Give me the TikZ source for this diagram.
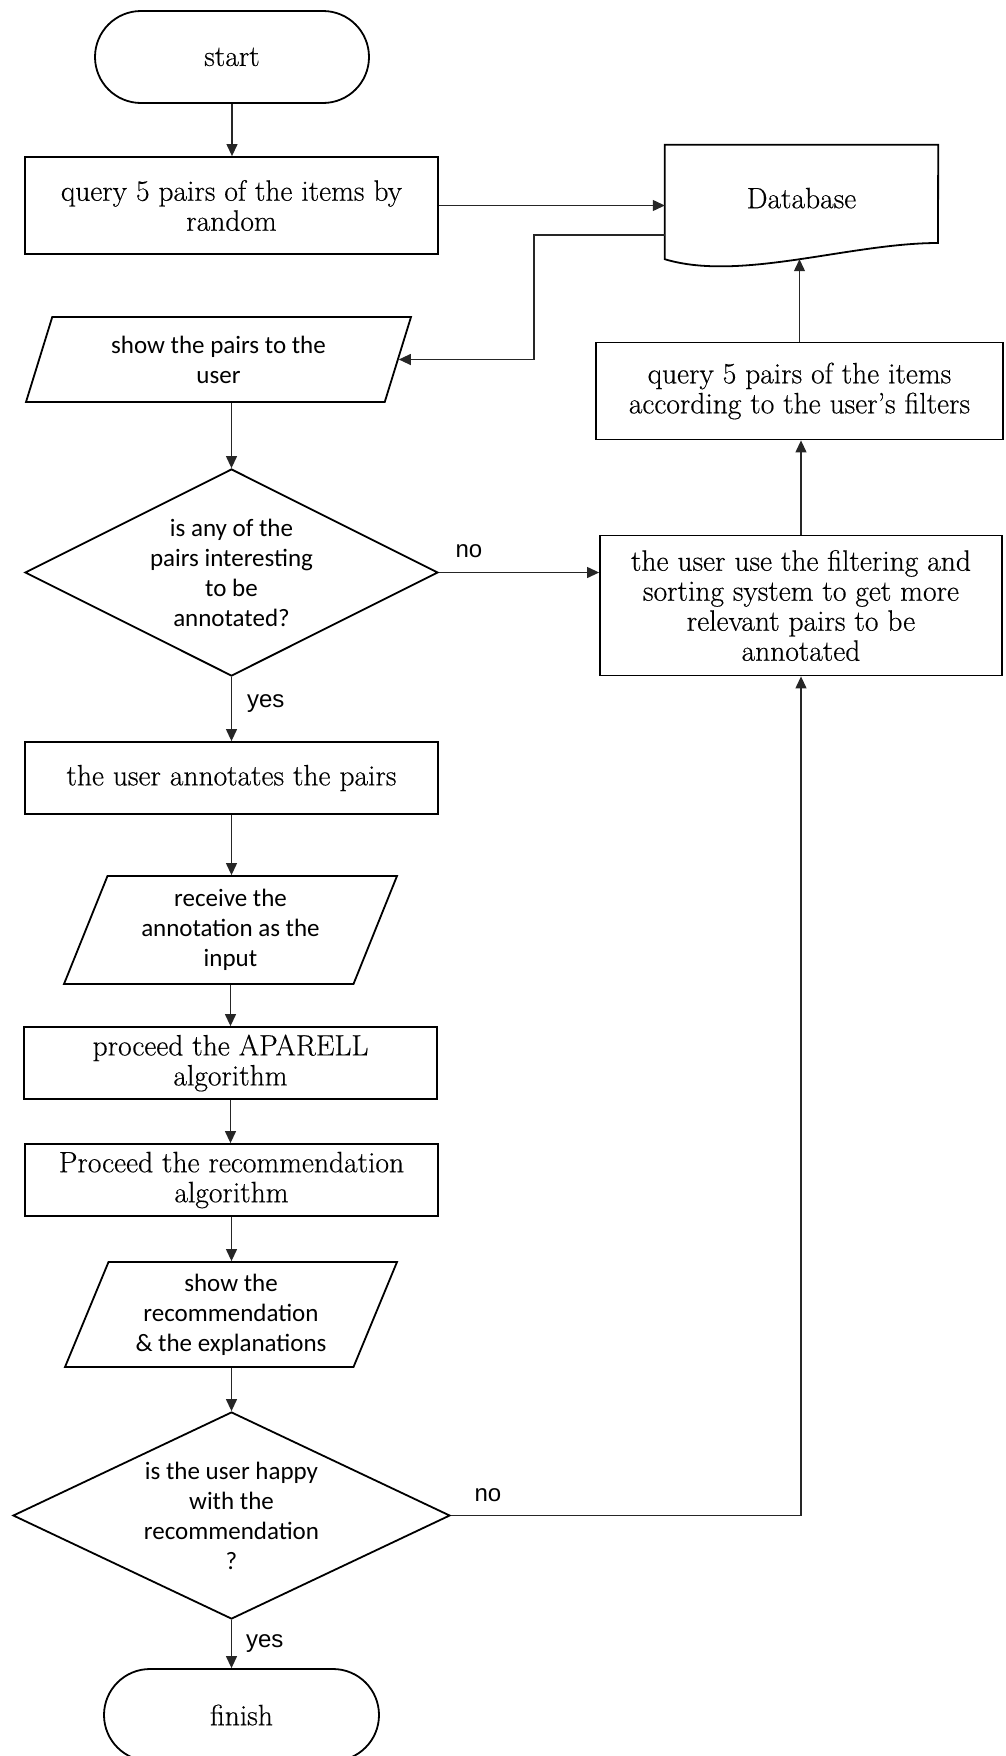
\documentclass[tikz,border=0pt]{standalone}
\usepackage{fontspec}
\newfontfamily\boxserif{Latin Modern Roman}[FakeBold=0.4]
\newfontfamily\boxsans{Carlito}
\newfontfamily\lblsans{Liberation Sans}
\usetikzlibrary{shapes.geometric, arrows.meta, calc}

\tikzset{
  shapeline/.style={draw=black, line width=1.8pt},
  serif/.style={font=\boxserif\fontsize{29.5}{30}\selectfont},
  sans/.style={font=\boxsans\fontsize{25}{30}\selectfont},
  procbox/.style={shapeline, rectangle, align=center, inner sep=2pt, serif},
  termbox/.style={shapeline, rectangle, rounded corners=46pt, minimum width=274pt,
    minimum height=92pt, serif},
  iobox/.style={shapeline, trapezium, trapezium left angle=63, trapezium right angle=117,
    trapezium stretches body=true, align=center, inner sep=2pt, sans},
  decbox/.style={shapeline, diamond, aspect=2, align=center, inner sep=0pt, sans},
  conn/.style={draw=black!85, line width=1.2pt, -{Triangle[length=12pt,width=11pt]}},
  lbl/.style={font=\lblsans\fontsize{24}{28}\selectfont, inner sep=0pt},
}

\begin{document}
\begin{tikzpicture}[x=1pt, y=-1pt]
\useasboundingbox (0,0) rectangle (1005,1756);
\clip (0,0) rectangle (1005,1756);

% main column
\node[termbox] (start) at (232,57) {start};
\node[procbox, minimum width=413pt, minimum height=97pt] (q1) at (231.5,205.5)
  {query 5 pairs of the items by\\random};
\node[iobox, minimum width=385pt, minimum height=85pt] (show) at (218.5,359.5)
  {show the pairs to the\\user};
\node[decbox, minimum width=413pt, minimum height=207pt] (qinterest) at (231.5,572.5)
  {is any of the\\pairs interesting\\to be\\annotated?};
\node[procbox, minimum width=413pt, minimum height=72pt] (annot) at (231.5,778)
  {the user annotates the pairs};
\node[iobox, minimum width=333pt, minimum height=108pt] (recv) at (230.5,930)
  {receive the\\annotation as the\\input};
\node[procbox, minimum width=413pt, minimum height=72pt] (aparell) at (230.5,1063)
  {proceed the APARELL\\algorithm};
\node[procbox, minimum width=413pt, minimum height=72pt] (recalg) at (231.5,1180)
  {Proceed the recommendation\\algorithm};
\node[iobox, minimum width=332pt, minimum height=105pt] (showrec) at (231,1314.5)
  {show the\\recommendation\\\& the explanations};
\node[decbox, minimum width=437pt, minimum height=207pt] (happy) at (231.5,1515.5)
  {is the user happy\\with the\\recommendation\\?};
\node[termbox, minimum width=275pt] (finish) at (241.5,1715) {finish};

% right column
\node[minimum width=273pt, minimum height=114pt, inner sep=0pt, serif] (db) at (801.5,202)
  {\raisebox{8pt}{Database}};
\draw[shapeline] (db.north west) -- (db.north east) -- (938,243)
  .. controls (850,243) and (740,282) .. (db.south west) -- cycle;
\node[procbox, minimum width=407pt, minimum height=97pt] (q2) at (799.5,391)
  {query 5 pairs of the items\\according to the user’s filters};
\node[procbox, minimum width=402pt, minimum height=140pt] (refine) at (801,605.5)
  {the user use the filtering and\\sorting system to get more\\relevant pairs to be\\annotated};

% connectors
\coordinate (dbturn) at (534,235);
\draw[conn] (start.south) -- (start.south |- q1.north);
\draw[conn] (q1.east) -- (q1.east -| db.west);
\draw[conn] (db.west |- dbturn) -- (dbturn) |- (show.east);
\draw[conn] (qinterest.north |- show.south) -- (qinterest.north);
\draw[conn] (qinterest.east) -- (qinterest.east -| refine.west)
  node[lbl, pos=0, anchor=south west, xshift=16pt, yshift=14pt] {no};
\draw[conn] (qinterest.south) -- (annot.north)
  node[lbl, pos=0, anchor=north west, xshift=15pt, yshift=-17pt] {yes};
\draw[conn] (annot.south) -- (annot.south |- recv.north);
\draw[conn] (aparell.north |- recv.south) -- (aparell.north);
\draw[conn] (aparell.south) -- (aparell.south |- recalg.north);
\draw[conn] (recalg.south) -- (recalg.south |- showrec.north);
\draw[conn] (happy.north |- showrec.south) -- (happy.north);
\draw[conn] (happy.south) -- (happy.south |- finish.north)
  node[lbl, pos=0, anchor=north west, xshift=14pt, yshift=-14pt] {yes};
\draw[conn] (happy.east) -| (refine.south)
  node[lbl, pos=0, anchor=south west, xshift=23pt, yshift=13pt] {no};
\draw[conn] (refine.north) -- (refine.north |- q2.south);
\draw[conn] (q2.north) -- (q2.north |- db.south);
\end{tikzpicture}
\end{document}
